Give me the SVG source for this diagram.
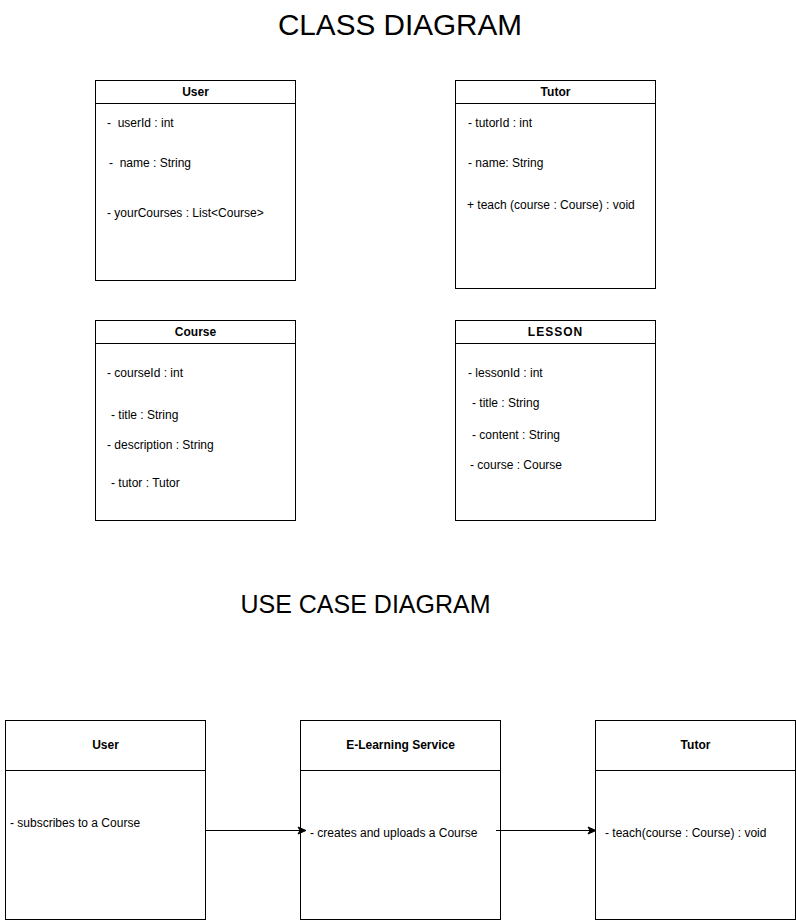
<svg xmlns="http://www.w3.org/2000/svg" width="796" height="921" viewBox="0 0 796 921">
<style>
.box{fill:#fff;stroke:#000;stroke-width:1}
.ln{stroke:#000;stroke-width:1;fill:none}
text{font-family:"Liberation Sans",Arial,sans-serif;font-size:12px;fill:#000;white-space:pre}
.h{font-weight:bold;text-anchor:middle}
.t{font-size:29.7px;text-anchor:middle}
.t2{font-size:25px;text-anchor:middle}
</style>
<defs>
<marker id="arr" markerWidth="10" markerHeight="10" refX="9" refY="5" orient="auto" markerUnits="userSpaceOnUse">
<path d="M1,1.5 L9,5 L1,8.5 L3,5 Z" fill="#000" stroke="#000" stroke-width="1"/>
</marker>
</defs>
<rect width="796" height="921" fill="#fff"/>
<text class="t" x="400" y="35">CLASS DIAGRAM</text>
<text class="t2" x="365.5" y="613">USE CASE DIAGRAM</text>

<g id="user-class">
<rect class="box" x="95.5" y="80.5" width="200" height="200"/>
<line class="ln" x1="95.5" y1="103.5" x2="295.5" y2="103.5"/>
<text class="h" x="195.5" y="96">User</text>
<text x="107" y="127" xml:space="preserve">-  userId : int</text>
<text x="109" y="167" xml:space="preserve">-  name : String</text>
<text x="107" y="217">- yourCourses : List&lt;Course&gt;</text>
</g>

<g id="tutor-class">
<rect class="box" x="455.5" y="80.5" width="200" height="208"/>
<line class="ln" x1="455.5" y1="103.5" x2="655.5" y2="103.5"/>
<text class="h" x="555.5" y="96">Tutor</text>
<text x="468" y="127">- tutorId : int</text>
<text x="468" y="167">- name: String</text>
<text x="467" y="209">+ teach (course : Course) : void</text>
</g>

<g id="course-class">
<rect class="box" x="95.5" y="320.5" width="200" height="200"/>
<line class="ln" x1="95.5" y1="343.5" x2="295.5" y2="343.5"/>
<text class="h" x="195.5" y="336">Course</text>
<text x="107" y="377">- courseId : int</text>
<text x="111" y="419">- title : String</text>
<text x="107" y="449">- description : String</text>
<text x="111" y="487">- tutor : Tutor</text>
</g>

<g id="lesson-class">
<rect class="box" x="455.5" y="320.5" width="200" height="200"/>
<line class="ln" x1="455.5" y1="343.5" x2="655.5" y2="343.5"/>
<text class="h" x="555.5" y="336" letter-spacing="1">LESSON</text>
<text x="468" y="377">- lessonId : int</text>
<text x="472" y="407">- title : String</text>
<text x="472" y="439">- content : String</text>
<text x="470" y="469">- course : Course</text>
</g>

<g id="uc-user">
<rect class="box" x="5.5" y="720.5" width="200" height="199"/>
<line class="ln" x1="5.5" y1="770.5" x2="205.5" y2="770.5"/>
<text class="h" x="105.5" y="749">User</text>
<text x="10" y="827">- subscribes to a Course</text>
</g>

<g id="uc-service">
<rect class="box" x="300.5" y="720.5" width="200" height="199"/>
<line class="ln" x1="300.5" y1="770.5" x2="500.5" y2="770.5"/>
<text class="h" x="400.5" y="749">E-Learning Service</text>
<text x="310" y="837">- creates and uploads a Course</text>
</g>

<g id="uc-tutor">
<rect class="box" x="595.5" y="720.5" width="200" height="199"/>
<line class="ln" x1="595.5" y1="770.5" x2="795.5" y2="770.5"/>
<text class="h" x="695.5" y="749">Tutor</text>
<text x="605" y="837">- teach(course : Course) : void</text>
</g>

<g id="connectors">
<line class="ln" x1="206" y1="830.5" x2="306" y2="830.5" marker-end="url(#arr)"/>
<line class="ln" x1="496" y1="830.5" x2="596" y2="830.5" marker-end="url(#arr)"/>
</g>
</svg>
